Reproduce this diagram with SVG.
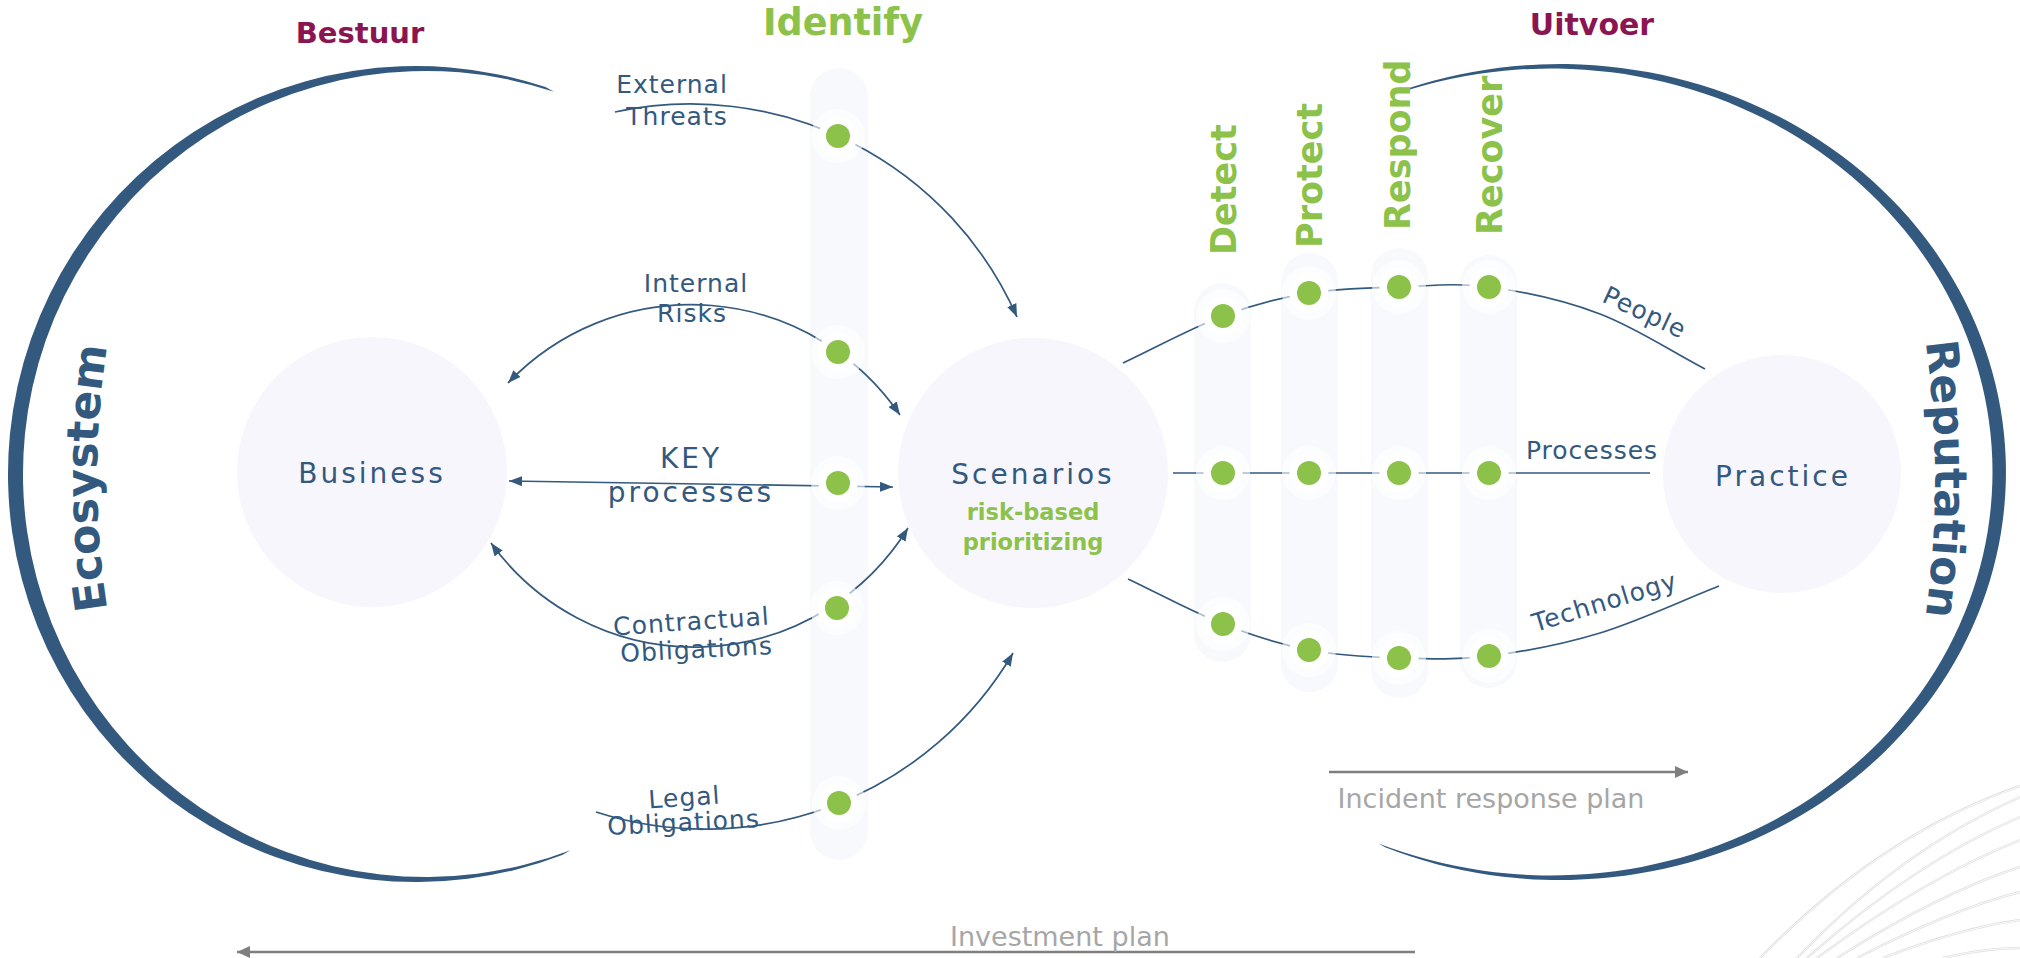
<svg xmlns="http://www.w3.org/2000/svg" xmlns:xlink="http://www.w3.org/1999/xlink" width="2020" height="958" viewBox="0 0 2020 958">
  <style>
    .t { font-family: "DejaVu Sans", Verdana, sans-serif; fill: #34597e; }
    .node { font-size: 28px; letter-spacing: 3px; text-anchor: middle; }
    .lab { font-size: 25px; letter-spacing: 1px; text-anchor: middle; }
    .ring { font-size: 44px; font-weight: bold; }
    .phase { font-family: "DejaVu Sans", Verdana, sans-serif; font-weight: bold; font-size: 35px; fill: #8cc24a; }
    .head { font-family: "DejaVu Sans", Verdana, sans-serif; font-weight: bold; fill: #8a1550; text-anchor: middle; }
    .green { font-family: "DejaVu Sans", Verdana, sans-serif; font-weight: bold; font-size: 22.5px; fill: #8cc24a; text-anchor: middle; }
    .plan { font-family: "DejaVu Sans", Verdana, sans-serif; font-size: 27px; fill: #a6a6a6; }
    .bar { fill: #f8f9fc; }
    .disc { fill: #f6f6fc; }
    .conn { fill: none; stroke: #34597e; stroke-width: 1.7; }
    .grey { fill: none; stroke: #7f7f7f; stroke-width: 2.5; }
    .wave { fill: none; stroke: #e0e0e0; stroke-width: 2.4; }
    .wave-in { fill: none; stroke: #ffffff; stroke-width: 0.8; }
  </style>
  <defs>
    <marker id="ah" viewBox="0 0 13 10" refX="13" refY="5" markerWidth="13" markerHeight="10" markerUnits="userSpaceOnUse" orient="auto-start-reverse">
      <path d="M0,0 L13,5 L0,10 z" fill="#34597e"/>
    </marker>
    <marker id="ag" viewBox="0 0 13 12" refX="13" refY="6" markerWidth="13" markerHeight="12" markerUnits="userSpaceOnUse" orient="auto">
      <path d="M0,0 L13,6 L0,12 z" fill="#7f7f7f"/>
    </marker>
    <g id="pt">
      <circle r="27" fill="#ffffff" opacity="0.6"/>
      <circle r="19.5" fill="#ffffff"/>
      <circle r="12" fill="#8cc24a"/>
    </g>
    <path id="eco-path" d="M148,767 A845,845 0 0 1 148,189"/>
    <path id="rep-path" d="M1874,133 A1012,1012 0 0 1 1874,825"/>
    <path id="wv0" d="M1760,958 Q1880,835 2020,786"/>
    <path id="wv1" d="M1797,958 Q1900,850 2020,797"/>
    <path id="wv2" d="M1807,958 Q1915,862 2020,817"/>
    <path id="wv3" d="M1817,958 Q1925,878 2020,840"/>
    <path id="wv4" d="M1837,958 Q1940,893 2020,867"/>
    <path id="wv5" d="M1857,958 Q1950,910 2020,892"/>
    <path id="wv6" d="M1883,958 Q1960,928 2020,920"/>
    <path id="wv7" d="M1943,958 Q1985,948 2020,948"/>
  </defs>

  <rect width="2020" height="958" fill="#ffffff"/>

  <!-- decorative fan of thin lines, bottom right -->
  <g id="decoration">
    <use href="#wv0" class="wave"/><use href="#wv0" class="wave-in"/>
    <use href="#wv1" class="wave"/><use href="#wv1" class="wave-in"/>
    <use href="#wv2" class="wave"/><use href="#wv2" class="wave-in"/>
    <use href="#wv3" class="wave"/><use href="#wv3" class="wave-in"/>
    <use href="#wv4" class="wave"/><use href="#wv4" class="wave-in"/>
    <use href="#wv5" class="wave"/><use href="#wv5" class="wave-in"/>
    <use href="#wv6" class="wave"/><use href="#wv6" class="wave-in"/>
    <use href="#wv7" class="wave"/><use href="#wv7" class="wave-in"/>
  </g>

  <!-- outer rings -->
  <g id="ecosystem">
    <path d="M545.5,87.1 A408,408 0 1 0 562.2,854.9 L570.4,850.2 A403,403 0 1 1 553.9,91.8 Z" fill="#34597e"/>
    <text class="t ring"><textPath href="#eco-path" startOffset="50%" text-anchor="middle">Ecosystem</textPath></text>
  </g>
  <g id="reputation">
    <path d="M1407.5,88.6 A446,408 0 1 1 1385.7,847.6 L1378.5,843.4 A441.5,403.5 0 1 0 1400,92.8 Z" fill="#34597e"/>
    <text class="t ring"><textPath href="#rep-path" startOffset="50%" text-anchor="middle">Reputation</textPath></text>
  </g>

  <!-- column bars -->
  <g id="bars">
    <rect id="identify-bar" class="bar" x="810" y="68" width="58" height="792" rx="29"/>
    <rect id="detect-bar" class="bar" x="1194" y="283" width="57" height="379" rx="28.5"/>
    <rect id="protect-bar" class="bar" x="1281" y="253" width="57" height="439" rx="28.5"/>
    <rect id="respond-bar" class="bar" x="1371" y="248" width="57" height="450" rx="28.5"/>
    <rect id="recover-bar" class="bar" x="1460" y="255" width="57" height="433" rx="28.5"/>
  </g>

  <!-- main nodes -->
  <g id="business">
    <circle class="disc" cx="372" cy="472" r="135"/>
    <text class="t node" x="372" y="483">Business</text>
  </g>
  <g id="scenarios">
    <circle class="disc" cx="1033" cy="473" r="135"/>
    <text class="t node" x="1033" y="484">Scenarios</text>
    <text class="green" x="1033" y="520">risk-based</text>
    <text class="green" x="1033" y="550">prioritizing</text>
  </g>
  <g id="practice">
    <circle class="disc" cx="1782" cy="474" r="119"/>
    <text class="t node" x="1783" y="486">Practice</text>
  </g>

  <!-- connectors -->
  <g id="connectors">
    <path class="conn" d="M615,112 A357,357 0 0 1 1017,317" marker-end="url(#ah)"/>
    <path class="conn" d="M508,383 A253,253 0 0 1 900,415" marker-start="url(#ah)" marker-end="url(#ah)"/>
    <path class="conn" d="M509,481 L893,487" marker-start="url(#ah)" marker-end="url(#ah)"/>
    <path class="conn" d="M491,543 A251,251 0 0 0 908,528" marker-start="url(#ah)" marker-end="url(#ah)"/>
    <path class="conn" d="M596,812 A357,357 0 0 0 1013,653" marker-end="url(#ah)"/>
    <!-- people / processes / technology -->
    <path class="conn" d="M1123,363 C1156.3,347.3 1192,327.7 1223,316 C1254,304.3 1279.7,297.8 1309,293 C1338.3,288.2 1369,288 1399,287 C1429,286 1455.5,282.5 1489,287 C1522.5,291.5 1564,300.3 1600,314 C1636,327.7 1670,350.7 1705,369"/>
    <path class="conn" d="M1173,473 L1650,473"/>
    <path class="conn" d="M1128,579 C1159.7,594 1192.8,612.2 1223,624 C1253.2,635.8 1279.7,644.3 1309,650 C1338.3,655.7 1369,657 1399,658 C1429,659 1455.5,660.2 1489,656 C1522.5,651.8 1561.7,644.7 1600,633 C1638.3,621.3 1679.3,601.7 1719,586"/>
    <!-- plans -->
    <path class="grey" d="M1329,772 L1688,772" marker-end="url(#ag)"/>
    <path class="grey" d="M1415,952 L237,952" marker-end="url(#ag)"/>
  </g>

  <!-- connector labels -->
  <g id="labels" class="t">
    <text class="lab" x="672" y="93">External</text>
    <text class="lab" x="677" y="125">Threats</text>
    <text class="lab" x="696" y="292">Internal</text>
    <text class="lab" x="692" y="322">Risks</text>
    <text class="node" x="691" y="468">KEY</text>
    <text class="node" x="691" y="502">processes</text>
    <text class="lab" transform="translate(692,630) rotate(-4)">Contractual</text>
    <text class="lab" transform="translate(697,658) rotate(-3)">Obligations</text>
    <text class="lab" transform="translate(685,806) rotate(-4)">Legal</text>
    <text class="lab" transform="translate(684,831) rotate(-3)">Obligations</text>
    <text class="lab" transform="translate(1641,320) rotate(25)">People</text>
    <text class="lab" x="1592" y="459">Processes</text>
    <text class="lab" transform="translate(1607,610) rotate(-17)">Technology</text>
  </g>

  <!-- column dots -->
  <g id="identify">
    <use href="#pt" x="838" y="136"/>
    <use href="#pt" x="838" y="352"/>
    <use href="#pt" x="838" y="483"/>
    <use href="#pt" x="837" y="608"/>
    <use href="#pt" x="839" y="803"/>
    <text class="head" x="843" y="35" font-size="36.5" style="fill:#8cc24a">Identify</text>
  </g>
  <g id="detect">
    <use href="#pt" x="1223" y="316"/>
    <use href="#pt" x="1223" y="473"/>
    <use href="#pt" x="1223" y="624"/>
    <text class="phase" transform="translate(1236,255) rotate(-90)">Detect</text>
  </g>
  <g id="protect">
    <use href="#pt" x="1309" y="293"/>
    <use href="#pt" x="1309" y="473"/>
    <use href="#pt" x="1309" y="650"/>
    <text class="phase" transform="translate(1322,248) rotate(-90)">Protect</text>
  </g>
  <g id="respond">
    <use href="#pt" x="1399" y="287"/>
    <use href="#pt" x="1399" y="473"/>
    <use href="#pt" x="1399" y="658"/>
    <text class="phase" transform="translate(1410,230) rotate(-90)">Respond</text>
  </g>
  <g id="recover">
    <use href="#pt" x="1489" y="287"/>
    <use href="#pt" x="1489" y="473"/>
    <use href="#pt" x="1489" y="656"/>
    <text class="phase" transform="translate(1502,235) rotate(-90)">Recover</text>
  </g>

  <!-- headings and plan captions -->
  <g id="headings">
    <text class="head" x="360" y="43" font-size="29">Bestuur</text>
    <text class="head" x="1592" y="35" font-size="30">Uitvoer</text>
    <text class="plan" x="1491" y="808" text-anchor="middle">Incident response plan</text>
    <text class="plan" x="950" y="946">Investment plan</text>
  </g>
</svg>
